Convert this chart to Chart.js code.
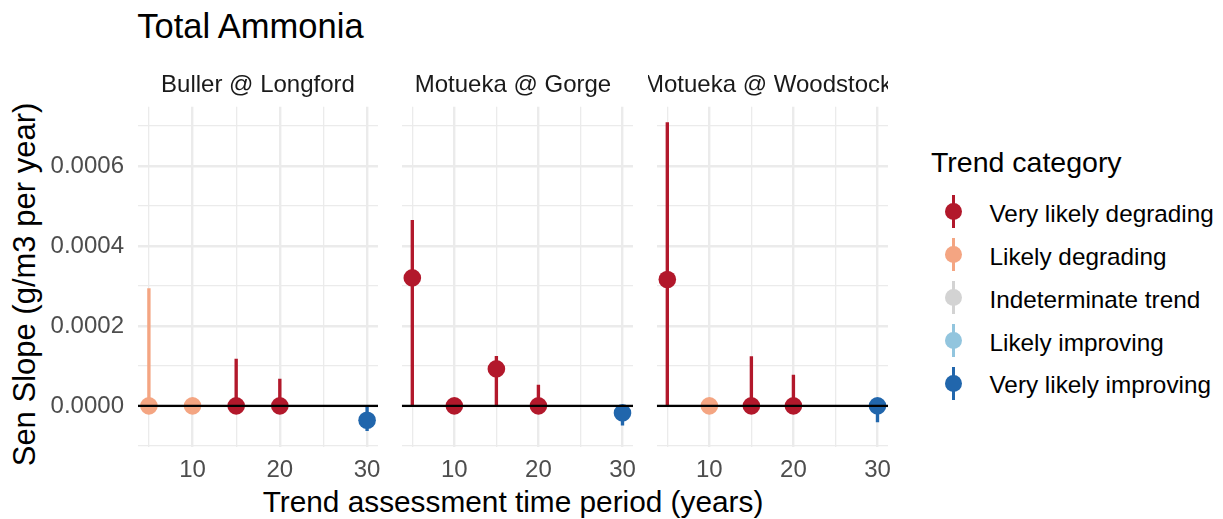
<!DOCTYPE html>
<html>
<head>
<meta charset="utf-8">
<script src="https://cdn.jsdelivr.net/npm/chart.js@4.4.1/dist/chart.umd.min.js"></script>
<style>
  body { margin: 0; background: #fff; font-family: "Liberation Sans", Arial, sans-serif; }
  #wrap { position: relative; width: 1223px; height: 519px; overflow: hidden; }
  .txt { position: absolute; line-height: 1; white-space: nowrap; }
  canvas { position: absolute; top: 0; }
  .strip { position: absolute; top: 72.4px; width: 240px; height: 30px; display: flex; justify-content: center;
           overflow: hidden; font-size: 24px; line-height: 1; color: #1a1a1a; white-space: nowrap; }
</style>
</head>
<body>
<div id="wrap">
  <div class="txt" style="left:137.3px; top:8.6px; font-size:34.5px; color:#000;">Total Ammonia</div>
  <div class="txt" style="left:0; width:1026px; top:486.5px; font-size:29.8px; text-align:center; color:#000;">Trend assessment time period (years)</div>
  <div class="txt" style="left:-225.9px; top:268.5px; width:500px; height:31px; font-size:31px; text-align:center; color:#000; transform:rotate(-90deg);">Sen Slope (g/m3 per year)</div>
  <div class="txt" style="left:931px; top:148px; font-size:28.5px; color:#000;">Trend category</div>
  <div id="legend"></div>
  <canvas id="panel0"></canvas>
  <canvas id="panel1"></canvas>
  <canvas id="panel2"></canvas>
</div>
<script>
// ---- data ----
const periods = [5, 10, 15, 20, 30];
const sites = ["Buller @ Longford", "Motueka @ Gorge", "Motueka @ Woodstock"];
const categories = ["Very likely degrading", "Likely degrading", "Indeterminate trend", "Likely improving", "Very likely improving"];
const categoryColours = ["#B2182B", "#F4A582", "#D3D3D3", "#92C5DE", "#2166AC"];

const bullerSlope = [0, 0, 0, 0, -0.000036];
const bullerLower = [0, 0, 0, 0, -0.000062];
const bullerUpper = [0.000293, 0, 0.000117, 0.000067, 0];
const bullerCategory = ["Likely degrading", "Likely degrading", "Very likely degrading", "Very likely degrading", "Very likely improving"];

const gorgeSlope = [0.00032, 0, 0.0000925, 0, -0.0000175];
const gorgeLower = [0, 0, 0, 0, -0.000048];
const gorgeUpper = [0.000464, 0, 0.000124, 0.000052, 0];
const gorgeCategory = ["Very likely degrading", "Very likely degrading", "Very likely degrading", "Very likely degrading", "Very likely improving"];

const woodstockSlope = [0.000316, 0, 0, 0, 0];
const woodstockLower = [0, 0, 0, 0, -0.00004];
const woodstockUpper = [0.000708, 0, 0.000123, 0.000077, 0];
const woodstockCategory = ["Very likely degrading", "Likely degrading", "Very likely degrading", "Very likely degrading", "Very likely improving"];

const xMin = 3.75, xMax = 31.25, xStep = 5;
const yMin = -0.000102, yMax = 0.000748, yStep = 0.0001;

// ---- layout ----
const panelLeft = [138, 393, 648];
const panelWidth = 240;
const panelTop = 106.7, panelBottom = 446.7, H = 519;
const fontFamily = '"Liberation Sans", Arial, sans-serif';

const colourOf = c => categoryColours[categories.indexOf(c)];

function makePanel(i, slope, lower, upper, cats) {
  const canvasLeft = i === 0 ? 0 : panelLeft[i];
  const yWidth = panelLeft[i] - canvasLeft;
  const cv = document.getElementById("panel" + i);
  cv.width = panelLeft[i] + panelWidth + 15 - canvasLeft;
  cv.height = H;
  cv.style.left = canvasLeft + "px";

  const colours = cats.map(colourOf);

  new Chart(cv.getContext("2d"), {
    type: "scatter",
    data: {
      datasets: [
        { type: "line", data: [{ x: xMin, y: 0 }, { x: xMax, y: 0 }], showLine: true,
          borderColor: "#000", borderWidth: 2.4, pointRadius: 0, order: 0 },
        { type: "scatter", data: periods.map((p, k) => ({ x: p, y: slope[k] })),
          pointRadius: 8.8, pointBackgroundColor: colours, pointBorderWidth: 0, order: 1 },
        { type: "bar", data: periods.map((p, k) => ({ x: p, y: [lower[k], upper[k]] })),
          backgroundColor: colours, borderWidth: 0, barThickness: 2.7, order: 2 }
      ]
    },
    options: {
      responsive: false,
      animation: false,
      events: [],
      layout: { padding: { top: panelTop, right: 15, bottom: 0, left: 0 } },
      plugins: { legend: { display: false }, tooltip: { enabled: false } },
      scales: {
        x: {
          type: "linear", min: xMin, max: xMax, offset: false,
          border: { display: false },
          grid: { color: "#ebebeb", drawTicks: false, offset: false,
                  lineWidth: c => (c.tick && c.tick.value % 10 === 0) ? 2.4 : 1.3 },
          ticks: { stepSize: xStep, includeBounds: false, autoSkip: false, maxRotation: 0, padding: 9,
                   color: "#4d4d4d", font: { size: 24, family: fontFamily },
                   callback: v => v % 10 === 0 ? String(v) : "" },
          afterFit: s => { s.height = H - panelBottom; }
        },
        y: {
          type: "linear", min: yMin, max: yMax,
          border: { display: false },
          grid: { color: "#ebebeb", drawTicks: false,
                  lineWidth: c => (c.tick && Math.round(c.tick.value * 1e4) % 2 === 0) ? 2.4 : 1.3 },
          ticks: { display: i === 0, stepSize: yStep, includeBounds: false, autoSkip: false, padding: 14,
                   color: "#4d4d4d", font: { size: 24, family: fontFamily },
                   callback: v => Math.round(v * 1e4) % 2 === 0 ? (Math.round(v * 1e4) / 1e4).toFixed(4) : "" },
          afterFit: s => { s.width = yWidth; }
        }
      }
    }
  });

  const strip = document.createElement("div");
  strip.className = "strip";
  strip.style.left = panelLeft[i] + "px";
  const span = document.createElement("span");
  span.textContent = sites[i];
  strip.appendChild(span);
  document.getElementById("wrap").appendChild(strip);
}

makePanel(0, bullerSlope, bullerLower, bullerUpper, bullerCategory);
makePanel(1, gorgeSlope, gorgeLower, gorgeUpper, gorgeCategory);
makePanel(2, woodstockSlope, woodstockLower, woodstockUpper, woodstockCategory);

// ---- legend ----
const legendRows = [211.7, 254.6, 297.5, 340.4, 383.3];
const legendKeyX = 953.3;
const legend = document.getElementById("legend");
categories.forEach((c, k) => {
  const cy = legendRows[k];
  const col = categoryColours[k];
  legend.insertAdjacentHTML("beforeend",
    `<div style="position:absolute;left:${legendKeyX - 1.35}px;top:${cy - 16.5}px;width:2.7px;height:33px;background:${col}"></div>` +
    `<div style="position:absolute;left:${legendKeyX - 8.5}px;top:${cy - 8.5}px;width:17px;height:17px;border-radius:50%;background:${col}"></div>` +
    `<div class="txt" style="left:989.5px;top:${cy - 9.9}px;font-size:24.3px;color:#000">${c}</div>`);
});
</script>
</body>
</html>
